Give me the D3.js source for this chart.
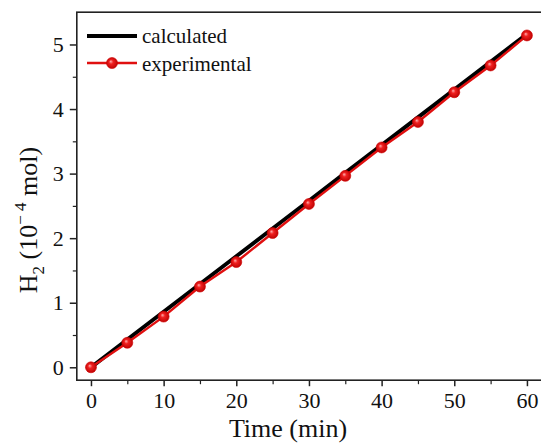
<!DOCTYPE html>
<html>
<head>
<meta charset="utf-8">
<script src="https://cdn.jsdelivr.net/npm/d3@7/dist/d3.min.js"></script>
<style>
  html, body { margin: 0; padding: 0; background: #fff; }
  svg { display: block; }
  svg text { font-family: "Liberation Serif", "Times New Roman", serif; }
</style>
</head>
<body>
<svg id="chart" width="541" height="443"></svg>
<script>
// Hydrogen evolution over time
const times = [0, 5, 10, 15, 20, 25, 30, 35, 40, 45, 50, 55, 60];
const calculated = [0, 0.43, 0.86, 1.29, 1.72, 2.15, 2.58, 3.01, 3.44, 3.87, 4.30, 4.73, 5.16];
const experimental = [0, 0.38, 0.785, 1.25, 1.63, 2.08, 2.53, 2.965, 3.405, 3.80, 4.26, 4.675, 5.14];
const xTicks = [0, 10, 20, 30, 40, 50, 60];
const xMinor = [5, 15, 25, 35, 45, 55];
const yTicks = [0, 1, 2, 3, 4, 5];
const yMinor = [0.5, 1.5, 2.5, 3.5, 4.5];
const seriesNames = ["calculated", "experimental"];

const svg = d3.select("#chart");

const x = d3.scaleLinear().domain([-1.95, 64]).range([76.8, 556]);
const y = d3.scaleLinear().domain([-0.2, 5.5]).range([380.2, 12.2]);

const [x0, x1] = x.range();
const [yb, yt] = y.range();

// sphere-like marker fill
const defs = svg.append("defs");
const grad = defs.append("radialGradient").attr("id", "ball")
  .attr("cx", "50%").attr("cy", "50%").attr("r", "55%")
  .attr("fx", "38%").attr("fy", "35%");
grad.append("stop").attr("offset", "0%").attr("stop-color", "#ffb0b0");
grad.append("stop").attr("offset", "35%").attr("stop-color", "#f02020");
grad.append("stop").attr("offset", "100%").attr("stop-color", "#b80000");

const axisColor = "#222";
const tickFont = 22;
const fmt = d3.format("d");

function styleAxis(g) {
  g.attr("font-family", null).attr("font-size", null);
  g.select(".domain").remove();
  g.selectAll(".tick line").attr("stroke", axisColor).attr("stroke-width", 1.5);
  g.selectAll(".tick text").attr("font-size", tickFont).attr("fill", "#111");
}

// bottom axis
const gx = svg.append("g").attr("transform", `translate(0,${yb})`)
  .call(d3.axisBottom(x).tickValues(xTicks).tickFormat(fmt).tickSize(6).tickPadding(6).tickSizeOuter(0));
styleAxis(gx);
const gxm = svg.append("g").attr("transform", `translate(0,${yb})`)
  .call(d3.axisBottom(x).tickValues(xMinor).tickSize(4).tickFormat(""));
styleAxis(gxm);
gxm.selectAll(".tick line").attr("stroke-width", 1.2);

// left axis
const gy = svg.append("g").attr("transform", `translate(${x0},0)`)
  .call(d3.axisLeft(y).tickValues(yTicks).tickFormat(fmt).tickSize(7).tickPadding(6).tickSizeOuter(0));
styleAxis(gy);
const gym = svg.append("g").attr("transform", `translate(${x0},0)`)
  .call(d3.axisLeft(y).tickValues(yMinor).tickSize(4).tickFormat(""));
styleAxis(gym);
gym.selectAll(".tick line").attr("stroke-width", 1.2);

// frame
svg.append("rect")
  .attr("x", x0).attr("y", yt)
  .attr("width", x1 - x0).attr("height", yb - yt)
  .attr("fill", "none").attr("stroke", axisColor).attr("stroke-width", 1.6);

const line = d3.line().x(d => x(d[0])).y(d => y(d[1]));

// calculated series
svg.append("path")
  .datum(times.map((t, i) => [t, calculated[i]]))
  .attr("d", line)
  .attr("fill", "none").attr("stroke", "#000").attr("stroke-width", 4);

// experimental series
const expData = times.map((t, i) => [t, experimental[i]]);
svg.append("path")
  .datum(expData)
  .attr("d", line)
  .attr("fill", "none").attr("stroke", "#e01010").attr("stroke-width", 2.4);
svg.append("g").selectAll("circle").data(expData).join("circle")
  .attr("cx", d => x(d[0])).attr("cy", d => y(d[1])).attr("r", 5.5)
  .attr("fill", "url(#ball)").attr("stroke", "#d00000").attr("stroke-width", 0.6);

// legend
const lg = svg.append("g").attr("transform", "translate(87,0)");
lg.append("line").attr("x1", 0).attr("x2", 50).attr("y1", 36).attr("y2", 36)
  .attr("stroke", "#000").attr("stroke-width", 4);
lg.append("text").attr("x", 55).attr("y", 43).attr("font-size", 21).attr("fill", "#111")
  .text(seriesNames[0]);
lg.append("line").attr("x1", 0).attr("x2", 50).attr("y1", 63).attr("y2", 63)
  .attr("stroke", "#e01010").attr("stroke-width", 2.4);
lg.append("circle").attr("cx", 25).attr("cy", 63).attr("r", 5.5)
  .attr("fill", "url(#ball)").attr("stroke", "#d00000").attr("stroke-width", 0.6);
lg.append("text").attr("x", 55).attr("y", 71).attr("font-size", 21).attr("fill", "#111")
  .text(seriesNames[1]);

// axis titles
svg.append("text").attr("x", 288).attr("y", 437).attr("text-anchor", "middle")
  .attr("font-size", 26).attr("fill", "#111").text("Time (min)");

const yt2 = svg.append("text")
  .attr("transform", "translate(37,220) rotate(-90)")
  .attr("text-anchor", "middle").attr("font-size", 26).attr("fill", "#111");
yt2.append("tspan").text("H");
yt2.append("tspan").attr("font-size", 17).attr("dy", 7).text("2");
yt2.append("tspan").attr("dy", -7).text("\u00a0(10");
yt2.append("tspan").attr("font-size", 17).attr("dy", -11).text("\u2212\u00a04");
yt2.append("tspan").attr("dy", 11).text("\u00a0mol)");
</script>
</body>
</html>
